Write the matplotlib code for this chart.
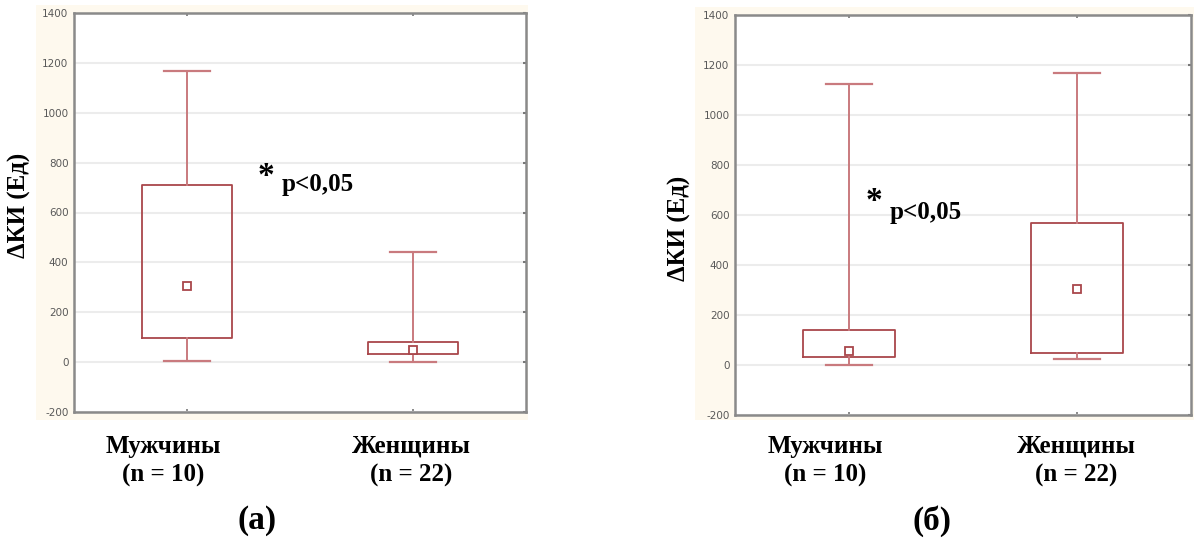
import matplotlib
matplotlib.use("Agg")
import matplotlib.pyplot as plt
from matplotlib.patches import Rectangle

# data (units: Ед)
groups = ["Мужчины\n(n = 10)", "Женщины\n(n = 22)"]
positions = [0.5, 1.5]

# panel (а)
a_min = [6, 0]
a_q1 = [98, 32]
a_point = [306, 50]
a_q3 = [709, 82]
a_max = [1166, 442]

# panel (б)
b_min = [1, 23]
b_q1 = [31, 49]
b_point = [57, 305]
b_q3 = [141, 567]
b_max = [1125, 1169]

yticks = [-200, 0, 200, 400, 600, 800, 1000, 1200, 1400]

W, H = 1194, 540
BOX = "#a9474b"
WHISK = "#c97a7e"
SERIF = "Liberation Serif"


def px(x0, y0, x1, y1):
    # pixel box (top-left origin) -> figure fraction rect
    return [x0 / W, 1 - y1 / H, (x1 - x0) / W, (y1 - y0) / H]


def make_stats(lo, q1, pt, q3, hi):
    stats = []
    for i in range(len(lo)):
        stats.append(dict(whislo=lo[i], q1=q1[i], med=pt[i], mean=pt[i],
                          q3=q3[i], whishi=hi[i], fliers=[]))
    return stats


def panel(fig, rect, stats):
    ax = fig.add_axes(rect)
    ax.set_zorder(2)
    ax.set_facecolor("white")
    ax.bxp(stats, positions=positions, widths=0.4, capwidths=0.2,
           showmeans=True, showfliers=False,
           boxprops=dict(color=BOX, linewidth=1.3),
           whiskerprops=dict(color=WHISK, linewidth=1.4),
           capprops=dict(color=WHISK, linewidth=1.6),
           medianprops=dict(visible=False),
           meanprops=dict(marker="s", markersize=5.5, markerfacecolor="white",
                          markeredgecolor=BOX, markeredgewidth=1.3))
    ax.set_xlim(0, 2)
    ax.set_ylim(-200, 1400)
    ax.set_yticks(yticks)
    ax.set_yticklabels([str(t) for t in yticks], fontsize=7.5, color="#595959")
    ax.set_xticks(positions)
    ax.set_xticklabels([])
    ax.tick_params(axis="y", left=False, right=True, direction="in",
                   length=2, width=1.5, color="#777777", pad=4)
    ax.tick_params(axis="x", top=True, bottom=True, direction="in",
                   length=2, width=1.2, color="#777777")
    ax.yaxis.grid(True, color="#ececec", linewidth=1.5)
    ax.set_axisbelow(True)
    for s in ax.spines.values():
        s.set_color("#8a8a8a")
        s.set_linewidth(1.8)
    return ax


fig = plt.figure(figsize=(W / 100, H / 100), dpi=100)

# cream backgrounds of the two screenshots
for x0, y0, x1, y1 in [(36, 5, 528, 420), (695, 7, 1194, 420)]:
    fig.patches.append(Rectangle((x0 / W, 1 - y1 / H), (x1 - x0) / W, (y1 - y0) / H,
                                 transform=fig.transFigure, facecolor="#fef9ee",
                                 edgecolor="none", zorder=-1))

ax1 = panel(fig, px(74, 13, 526, 412), make_stats(a_min, a_q1, a_point, a_q3, a_max))
ax2 = panel(fig, px(735, 15, 1191, 415), make_stats(b_min, b_q1, b_point, b_q3, b_max))

lab = dict(family=SERIF, fontweight="bold", fontsize=18)

# y labels
fig.text(19 / W, 1 - 205 / H, "ΔКИ (Ед)", rotation=90, ha="center", va="center", **lab)
fig.text(679 / W, 1 - 228 / H, "ΔКИ (Ед)", rotation=90, ha="center", va="center", **lab)

# category labels
for xc in [(163, 411), (825, 1076)]:
    for i, g in enumerate(groups):
        fig.text(xc[i] / W, 1 - 461 / H, g, ha="center", va="center",
                 linespacing=1.35, zorder=3, **lab)

# significance notes
for x0, ya, yp in [(258, 176, 184), (866, 202, 213)]:
    fig.text(x0 / W, 1 - ya / H, "*", ha="left", va="center", zorder=3,
             family=SERIF, fontweight="bold", fontsize=24)
    fig.text((x0 + 24) / W, 1 - yp / H, "p<0,05", ha="left", va="center",
             zorder=3, **lab)

# panel letters
fig.text(257 / W, 1 - 521 / H, "(а)", ha="center", va="center",
         family=SERIF, fontweight="bold", fontsize=24)
fig.text(932 / W, 1 - 521 / H, "(б)", ha="center", va="center",
         family=SERIF, fontweight="bold", fontsize=24)

fig.savefig("out.png", dpi=100)
